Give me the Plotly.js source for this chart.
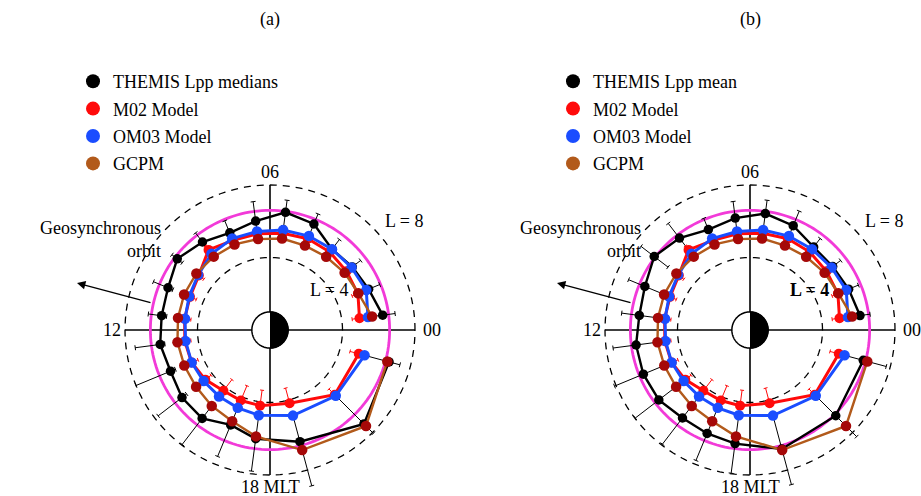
<!DOCTYPE html>
<html><head><meta charset="utf-8">
<script src="https://cdn.plot.ly/plotly-3.0.1.min.js"></script>
<style>html,body{margin:0;padding:0;background:#fff}#chart{width:921px;height:496px}</style>
</head><body><div id="chart"></div>
<script>
// ---- data (L-shell values) ----
const mlt = [0.5,1.5,2.5,3.5,4.5,5.5,6.5,7.5,8.5,9.5,10.5,11.5,12.5,13.5,14.5,15.5,16.5,17.5,19,21,23];

const themisMedian   = [6.27,5.89,5.72,5.62,6.33,6.55,6.06,5.80,6.12,6.45,6.09,6.03,6.11,5.94,6.12,6.15,5.67,6.05,6.38,7.33,6.80];
const themisMedianLo = [5.60,5.30,5.20,5.10,5.60,5.80,5.40,5.20,5.50,6.10,5.80,5.75,5.85,5.65,5.80,5.50,4.20,4.25,4.90,5.00,5.40];
const themisMedianHi = [6.96,6.55,6.30,6.29,6.93,7.22,7.14,6.52,6.75,6.82,6.96,6.77,7.50,8.00,7.78,7.96,7.55,7.85,8.90,8.06,7.42];

const themisMean   = [6.12,5.89,5.75,5.77,6.23,6.48,6.23,6.00,6.39,6.66,6.28,6.16,6.34,6.37,6.34,6.12,6.18,6.32,6.80,6.69,6.47];
const themisMeanLo = [5.60,5.30,5.20,5.20,5.40,5.70,5.30,5.30,5.40,5.70,5.30,5.20,5.10,4.70,4.70,4.30,4.60,4.70,4.80,5.10,5.20];
const themisMeanHi = [6.68,6.47,6.30,6.36,7.10,7.22,7.15,6.67,7.41,7.58,7.25,7.14,7.62,8.09,7.98,7.94,7.79,7.97,8.83,8.32,7.78];

const m02   = [4.98,5.25,5.32,5.42,5.45,5.38,5.35,5.35,5.57,4.95,4.78,4.75,4.74,4.68,4.50,4.22,4.21,4.21,4.18,5.05,5.07];
const m02Lo = [4.57,4.90,4.95,5.05,5.10,5.05,5.00,5.00,5.20,4.60,4.40,4.40,4.40,4.30,4.10,3.45,3.33,3.35,3.32,4.60,4.57];
const m02Hi = [5.25,5.50,5.60,5.70,5.70,5.60,5.60,5.65,5.85,5.25,5.05,5.00,5.00,4.95,4.75,4.40,4.40,4.40,4.40,5.30,5.35];

const om03 = [5.45,5.75,5.67,5.62,5.61,5.56,5.48,5.46,5.30,5.00,4.83,4.73,4.70,4.68,4.62,4.62,4.65,4.74,4.89,5.13,5.40];
const gcpm = [5.68,5.28,5.19,5.09,5.04,5.09,5.06,5.11,5.10,5.12,5.13,5.12,5.15,5.12,5.14,5.28,5.45,5.92,6.86,7.49,6.70];

const legendA = ['THEMIS Lpp medians','M02 Model','OM03 Model','GCPM'];
const legendB = ['THEMIS Lpp mean','M02 Model','OM03 Model','GCPM'];
const panelTitles = ['(a)','(b)'];
const hourLabels = ['06','12','00','18 MLT'];
const lShells = [4, 8];
const geoL = 6.6;
const earthL = 1;

// ---- styling ----
const FONT = 'Liberation Serif, Times New Roman, serif';
const C_BLACK = '#000000', C_RED = '#ff0a0a', C_BLUE = '#1a4dff', C_BROWN = '#b25a1b', C_DRED = '#a50808', C_MAG = '#f23ad8';
const RMAX = 9.1;
const PXL = 145/8; // pixels per L in the reference

function dom(cx, cy){
  const rp = PXL*RMAX;
  return {x:[(cx-rp)/921,(cx+rp)/921], y:[(496-cy-rp)/496,(496-cy+rp)/496]};
}
const th = h => h*15;

function ring(L){
  const r=[], t=[];
  for(let a=0;a<=360;a+=2){ r.push(L); t.push(a); }
  return {r, t};
}
function capPts(r, tDeg, c){
  const a = tDeg*Math.PI/180;
  const x = r*Math.cos(a), y = r*Math.sin(a);
  const tx = -Math.sin(a), ty = Math.cos(a);
  const p = [[x - c*tx, y - c*ty],[x + c*tx, y + c*ty]];
  return p.map(q => [Math.hypot(q[0],q[1]), Math.atan2(q[1],q[0])*180/Math.PI]);
}
function errTrace(lo, hi, color, width, capPx, sub){
  const r=[], t=[];
  const c = capPx/PXL;
  for(let i=0;i<mlt.length;i++){
    const a = th(mlt[i]);
    r.push(lo[i], hi[i], null); t.push(a, a, null);
    for(const v of [lo[i], hi[i]]){
      const p = capPts(v, a, c);
      r.push(p[0][0], p[1][0], null); t.push(p[0][1], p[1][1], null);
    }
  }
  return {type:'scatterpolar', subplot:sub, r, theta:t, mode:'lines', line:{color, width},
          hoverinfo:'skip', showlegend:false, connectgaps:false};
}
function series(vals, lineColor, markColor, lw, ms, sub){
  return {type:'scatterpolar', subplot:sub, r:vals, theta:mlt.map(th), mode:'lines+markers',
          line:{color:lineColor, width:lw}, marker:{color:markColor, size:ms},
          showlegend:false, cliponaxis:false};
}
function panelTraces(sub, black, blackLo, blackHi, legNames, legId){
  const T = [];
  for(const L of lShells){
    const g = ring(L);
    T.push({type:'scatterpolar', subplot:sub, r:g.r, theta:g.t, mode:'lines',
            line:{color:'#000', width:1.3, dash:'7px,6px'}, hoverinfo:'skip', showlegend:false});
  }
  // axis cross
  T.push({type:'scatterpolar', subplot:sub, r:[lShells[1],lShells[1],null,lShells[1],lShells[1]], theta:[0,180,null,90,270],
          mode:'lines', line:{color:'#000', width:1.6}, hoverinfo:'skip', showlegend:false, connectgaps:false});
  const gg = ring(geoL);
  T.push({type:'scatterpolar', subplot:sub, r:gg.r, theta:gg.t, mode:'lines',
          line:{color:C_MAG, width:2.8}, hoverinfo:'skip', showlegend:false});
  T.push(errTrace(blackLo, blackHi, C_BLACK, 1, 2.5, sub));
  T.push(series(black, C_BLACK, C_BLACK, 2.4, 9.5, sub));
  T.push(errTrace(m02Lo, m02Hi, C_RED, 1, 2, sub));
  T.push(series(m02, C_RED, C_RED, 3, 10, sub));
  T.push(series(om03, C_BLUE, C_BLUE, 3, 10.5, sub));
  T.push(series(gcpm, C_BROWN, C_DRED, 2.4, 10.5, sub));
  // legend proxies (hidden under the Earth disk)
  const legCols = [C_BLACK, C_RED, C_BLUE, C_BROWN];
  legNames.forEach((n,i)=>{
    T.push({type:'scatterpolar', subplot:sub, r:[0], theta:[0], mode:'markers', name:n,
            legendgroup:sub+'_'+i, marker:{color:legCols[i], size:14}, legend:legId, showlegend:true, hoverinfo:'skip'});
  });
  // Earth
  const e = ring(earthL);
  T.push({type:'scatterpolar', subplot:sub, r:e.r, theta:e.t, mode:'lines', fill:'toself', fillcolor:'#fff',
          line:{color:'#000', width:1.5}, hoverinfo:'skip', showlegend:false});
  const hr=[], ht=[];
  for(let a=-90;a<=90;a+=3){ hr.push(earthL); ht.push(a); }
  T.push({type:'scatterpolar', subplot:sub, r:hr, theta:ht, mode:'lines', fill:'toself', fillcolor:'#000',
          line:{color:'#000', width:1}, hoverinfo:'skip', showlegend:false});
  return T;
}

const data = [
  ...panelTraces('polar', themisMedian, themisMedianLo, themisMedianHi, legendA, 'legend'),
  ...panelTraces('polar2', themisMean, themisMeanLo, themisMeanHi, legendB, 'legend2')
];

const polarCommon = {
  bgcolor:'rgba(0,0,0,0)',
  radialaxis:{visible:false, range:[0,RMAX], showgrid:false, showline:false},
  angularaxis:{visible:false, rotation:0, direction:'counterclockwise', showgrid:false, showline:false, ticks:''}
};

function ann(text, px, py, extra){
  return Object.assign({text, x:px/921, y:1-py/496, xref:'paper', yref:'paper', showarrow:false,
    xanchor:'center', yanchor:'middle', font:{family:FONT, size:18, color:'#000'}}, extra||{});
}
const annotations = [];
[[270,panelTitles[0]],[750,panelTitles[1]]].forEach(([cx,t])=>{
  annotations.push(ann(t, cx, 20));
  annotations.push(ann(hourLabels[0], cx, 172));
  annotations.push(ann(hourLabels[1], cx-158, 330));
  annotations.push(ann(hourLabels[2], cx+162, 330));
  annotations.push(ann(hourLabels[3], cx, 487));
  annotations.push(ann('L = 8', cx+134, 221));
  annotations.push(ann('L = 4', cx+59, 290, cx>500?{font:{family:FONT,size:18,color:'#000',weight:'bold'}}:{}));
  annotations.push(ann('Geosynchronous<br>orbit', cx-107, 239, {xanchor:'right', align:'right'}));
  annotations.push({x:(cx-193)/921, y:1-283/496, xref:'paper', yref:'paper', text:'', showarrow:true,
    ax:75, ay:20, axref:'pixel', ayref:'pixel', arrowhead:2, arrowsize:1.2, arrowwidth:1.4, arrowcolor:'#000'});
});

const legBase = {bgcolor:'rgba(0,0,0,0)', font:{family:FONT, size:18, color:'#000'}, xanchor:'left', yanchor:'top',
                 itemsizing:'trace', borderwidth:0, tracegroupgap:1};

const layout = {
  width:921, height:496, margin:{l:0,r:0,t:0,b:0}, paper_bgcolor:'#fff', plot_bgcolor:'#fff',
  polar: Object.assign({domain:dom(270,330)}, polarCommon),
  polar2: Object.assign({domain:dom(750,330)}, polarCommon),
  legend: Object.assign({x:73/921, y:1-63/496}, legBase),
  legend2: Object.assign({x:553/921, y:1-63/496}, legBase),
  annotations,
  showlegend:true
};

Plotly.newPlot('chart', data, layout, {displayModeBar:false, staticPlot:true});
</script></body></html>
